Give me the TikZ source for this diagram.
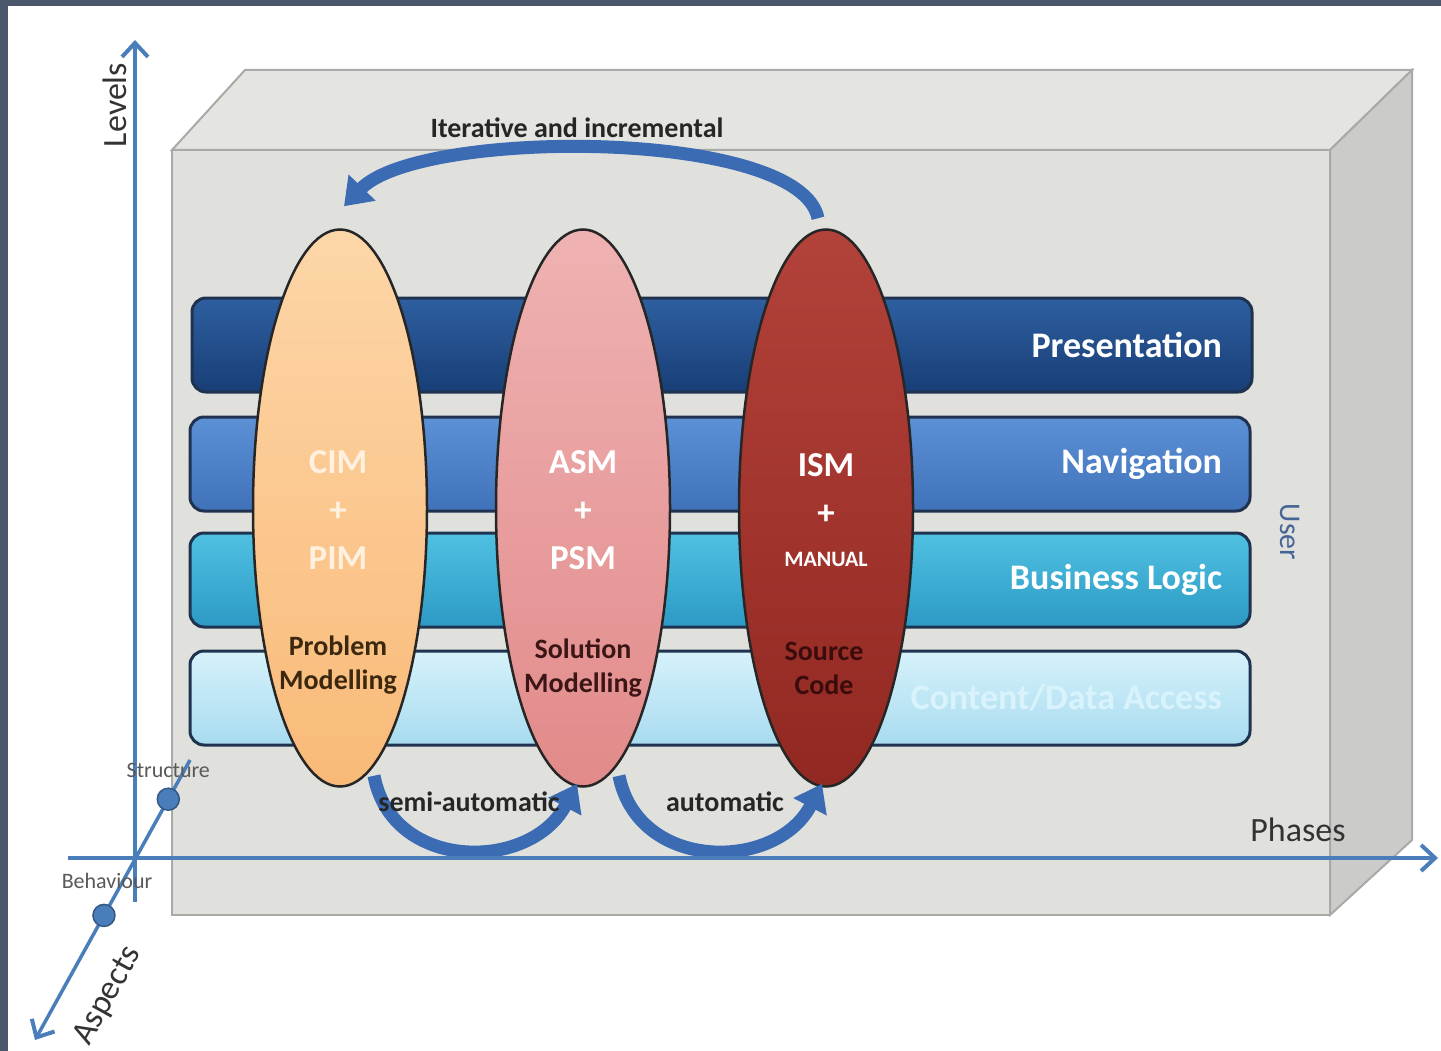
\documentclass[tikz,border=0pt]{standalone}
\usepackage{fontspec}
\setmainfont{Carlito}
\usetikzlibrary{calc, arrows.meta, positioning, shapes.geometric}

\definecolor{framegrey}{HTML}{4B586B}
\definecolor{boxfront}{HTML}{E0E1DD}
\definecolor{boxtop}{HTML}{E4E5E1}
\definecolor{boxside}{HTML}{CBCBCA}
\definecolor{boxedge}{HTML}{A8AAA7}
\definecolor{axisblue}{HTML}{4A7EBB}
\definecolor{flowblue}{HTML}{3B6BB3}
\definecolor{bandedge}{HTML}{1F3350}

\begin{document}
\begin{tikzpicture} [x=1pt, y=-1pt,
		% define styles
		bandstyle/.style={
			% The shape:
			rectangle,
			% The size:
			minimum width=1060pt,
			minimum height=94pt,
			% The border:
			line width=3pt,
			draw=bandedge,
			% Corners
			rounded corners=14pt
		},
		bandlabel/.style={
			text=white,
			font=\fontsize{36}{40}\selectfont\bfseries
		},
		modelstyle/.style={
			% The shape:
			ellipse,
			% The size:
			minimum width=174pt,
			minimum height=557pt,
			% The border:
			line width=2.5pt,
			draw=black!85
		},
		modellabel/.style={
			align=center,
			text=white,
			font=\fontsize{35}{48}\selectfont\bfseries
		},
		phaselabel/.style={
			align=center,
			font=\fontsize{28}{34}\selectfont\bfseries
		},
		flowarrow/.style={
			-{Triangle[length=26pt,width=36pt]},
			% Thickness
			line width=13pt,
			% Color
			draw=flowblue
		},
		axis/.style={
			-{Straight Barb[length=14pt,width=26pt,line width=4pt]},
			line width=4pt,
			draw=axisblue
		},
		axislabel/.style={
			text=black!80,
			font=\fontsize{34}{38}\selectfont
		},
		aspectlabel/.style={
			text=black!65,
			font=\fontsize{22}{26}\selectfont
		},
		aspectdot/.style={
			circle,
			minimum size=22pt,
			fill=axisblue,
			draw=axisblue!70!black,
			line width=1.5pt
		}]
		% end of style definition

		\useasboundingbox (0,0) rectangle (1441,1051);
		\fill[framegrey] (0,0) rectangle (1441,1051);
		\fill[white] (8,6) rectangle (1441,1051);

		% draw the box
		\filldraw[fill=boxtop, draw=boxedge, line width=2pt] (172,150) -- (245,70) -- (1412,70) -- (1330,150) -- cycle;
		\filldraw[fill=boxside, draw=boxedge, line width=2pt] (1330,150) -- (1412,70) -- (1412,840) -- (1330,915) -- cycle;
		\filldraw[fill=boxfront, draw=boxedge, line width=2pt] (172,150) rectangle (1330,915);

		% draw nodes
		\node (iPresentation) [bandstyle, top color={rgb,255:red,46;green,95;blue,160}, bottom color={rgb,255:red,24;green,62;blue,118}] at (722,345) {};
		\node (iNavigation) [bandstyle, top color={rgb,255:red,92;green,145;blue,214}, bottom color={rgb,255:red,64;green,114;blue,186}] at (720,464) {};
		\node (iBusiness) [bandstyle, top color={rgb,255:red,80;green,192;blue,226}, bottom color={rgb,255:red,44;green,154;blue,196}] at (720,580) {};
		\node (iContent) [bandstyle, top color={rgb,255:red,214;green,242;blue,251}, bottom color={rgb,255:red,168;green,219;blue,239}] at (720,698) {};

		\node (iCIM) [modelstyle, top color={rgb,255:red,253;green,214;blue,168}, bottom color={rgb,255:red,249;green,186;blue,120}] at (340,508) {};
		\node (iASM) [modelstyle, top color={rgb,255:red,239;green,178;blue,178}, bottom color={rgb,255:red,226;green,138;blue,138}] at (583,508) {};
		\node (iISM) [modelstyle, top color={rgb,255:red,178;green,66;blue,58}, bottom color={rgb,255:red,146;green,40;blue,34}] at (826,508) {};

		\node [bandlabel, left=28pt of iPresentation.east] {Presentation};
		\node [bandlabel, left=26pt of iNavigation.east] {Navigation};
		\node [bandlabel, left=26pt of iBusiness.east] {Business Logic};
		\node [bandlabel, left=26pt of iContent.east, text=white!85!cyan] {Content/Data Access};

		\node [modellabel, text=white!88!orange] at ($(iCIM)+(-2,2)$) {CIM\\+\\PIM};
		\node [modellabel] at ($(iASM)+(0,2)$) {ASM\\+\\PSM};
		\node [modellabel] at ($(iISM)+(0,2)$) {ISM\\+\\[-6pt]{\fontsize{22}{26}\selectfont MANUAL}};

		\node [phaselabel, text={rgb,255:red,60;green,40;blue,14}] at ($(iCIM)+(-2,157)$) {Problem\\Modelling};
		\node [phaselabel, text={rgb,255:red,60;green,22;blue,22}] at ($(iASM)+(0,160)$) {Solution\\Modelling};
		\node [phaselabel, text={rgb,255:red,58;green,12;blue,12}] at ($(iISM)+(-2,160)$) {Source\\Code};

		% connect nodes
		\draw [flowarrow] ($(iISM.north)+(-8,-10)$) .. controls (800,128) and (420,128) .. ($(iCIM.north)+(4,-22)$);
		\node [phaselabel, text=black!85] at (577,128) {Iterative and incremental};

		\draw [flowarrow] ($(iCIM.south)+(34,-12)$) .. controls (392,872) and (530,872) .. ($(iASM.south)+(-6,-4)$);
		\draw [flowarrow] ($(iASM.south)+(36,-12)$) .. controls (638,872) and (776,872) .. ($(iISM.south)+(-4,-4)$);
		\node [phaselabel, text=black!85] at (469,802) {semi-automatic};
		\node [phaselabel, text=black!85] at (725,802) {automatic};

		% draw axes
		\coordinate (iOrigin) at (135,858);
		\coordinate (iLevelsEnd) at (135,40);
		\coordinate (iPhasesStart) at (68,858);
		\coordinate (iPhasesEnd) at (1438,858);
		\coordinate (iAspectsStart) at (190,760);
		\coordinate (iAspectsEnd) at (35,1040);

		\draw [axis, -] (135,902) -- (iOrigin);
		\draw [axis] (iOrigin) -- (iLevelsEnd);
		\draw [axis] (iPhasesStart) -- (iPhasesEnd);
		\draw [axis, line width=3.5pt] (iAspectsStart) -- (iAspectsEnd);

		\node (iStructure) [aspectdot] at ($(iAspectsStart)!0.14!(iAspectsEnd)$) {};
		\node (iBehaviour) [aspectdot] at ($(iAspectsStart)!0.555!(iAspectsEnd)$) {};

		\node [axislabel, rotate=90] at (115,105) {Levels};
		\node [axislabel] at (1298,830) {Phases};
		\node [axislabel, rotate=61] at (108,996) {Aspects};
		\node [aspectlabel, above=6pt of iStructure] {Structure};
		\node [aspectlabel] at (107,881) {Behaviour};
		\node [axislabel, rotate=-90, text={rgb,255:red,70;green,100;blue,150}, font=\fontsize{30}{34}\selectfont] at (1290,532) {User};
	\end{tikzpicture}
\end{document}
